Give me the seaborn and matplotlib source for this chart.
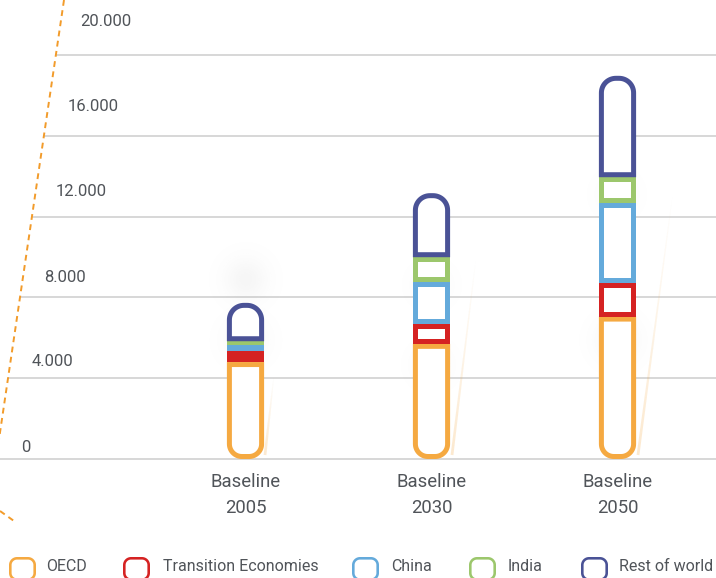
import numpy as np
import matplotlib
matplotlib.use("Agg")
import matplotlib.pyplot as plt
import seaborn as sns
from matplotlib.patches import Polygon
from matplotlib.transforms import IdentityTransform
from matplotlib.collections import LineCollection
from matplotlib.lines import Line2D

# ---------------- data ----------------
categories = ["Baseline\n2005", "Baseline\n2030", "Baseline\n2050"]
series_names = ["OECD", "Transition Economies", "China", "India", "Rest of world"]
oecd = [4800, 5700, 7050]
transition = [550, 990, 1680]
china = [270, 2090, 3960]
india = [210, 1210, 1260]
rest_of_world = [1900, 3170, 5020]
tick_values = [0, 4000, 8000, 12000, 16000, 20000]
tick_labels = ["0", "4.000", "8.000", "12.000", "16.000", "20.000"]
colors = ["#F5A941", "#D52222", "#64AADB", "#9CC76C", "#4A5296"]

W, H = 716, 578
TEXT = "#505459"

sns.set_theme(style="white")
plt.rcParams['font.family'] = ['Roboto', 'DejaVu Sans']

fig = plt.figure(figsize=(W / 100, H / 100), dpi=100)
Y0_PX, YTOP_PX = 459, 55          # pixel rows (from top) of 0 and 20000
ax = fig.add_axes([0, (H - Y0_PX) / H, 1, (Y0_PX - YTOP_PX) / H])

# stacked bars via seaborn (geometry harvested, then redrawn as rounded outlines)
series = [oecd, transition, china, india, rest_of_world]
cum = np.zeros(len(categories))
segments = []
for name, vals, col in zip(series_names, series, colors):
    top = cum + np.array(vals, dtype=float)
    n0 = len(ax.patches)
    sns.barplot(x=categories, y=top, color=col, width=0.2, saturation=1, ax=ax)
    new = list(ax.patches[n0:])
    for p, b in zip(new, cum):
        segments.append((p.get_x(), p.get_width(), b, p.get_y() + p.get_height(), col, name))
    for p in new:
        p.remove()
    cum = top

CX0, SP = 245.5, 186.0
ax.set_yticks([])
for s in ax.spines.values():
    s.set_visible(False)
ax.grid(False)
ax.set_xlabel("")
ax.set_ylabel("")
ax.set_xticks(range(len(categories)))
ax.set_xticklabels(categories, fontsize=13.3, color=TEXT, linespacing=1.58)
ax.tick_params(axis="x", length=0, pad=10)


def px2dx(px):
    return (px - CX0) / SP


def dash_x(ypx):
    return 64 - 0.148 * ypx


# faint glows
def glow(cx, cy, r, a):
    n = 64
    g = np.linspace(-1, 1, n)
    xx, yy = np.meshgrid(g, g)
    alpha = a * np.exp(-3.5 * (xx ** 2 + yy ** 2))
    img = np.zeros((n, n, 4))
    img[..., :3] = 0.6
    img[..., 3] = alpha
    x0 = px2dx(cx - r); x1 = px2dx(cx + r)
    y0 = (Y0_PX - (cy + r)) * 20000 / (Y0_PX - YTOP_PX)
    y1 = (Y0_PX - (cy - r)) * 20000 / (Y0_PX - YTOP_PX)
    ax.imshow(img, extent=(x0, x1, y0, y1), aspect="auto", zorder=0.8, interpolation="bilinear")

for (gx_, gy_, gr_, ga_) in [(246, 280, 40, 0.09), (246, 340, 40, 0.08), (432, 285, 36, 0.05),
                             (432, 365, 36, 0.06), (617, 195, 36, 0.05), (617, 340, 40, 0.10)]:
    glow(gx_, gy_, gr_, ga_)

ax.set_xlim(-CX0 / SP, (W - CX0) / SP)
ax.set_ylim(0, 20000)

# gridlines starting at the slanted dashed axis + labels
for v, lab in zip(tick_values, tick_labels):
    ypx = Y0_PX - v * (Y0_PX - YTOP_PX) / 20000
    gx = max(dash_x(ypx), 0)
    ax.hlines(v, px2dx(gx), ax.get_xlim()[1], color="#d4d4d4", lw=1.3, zorder=0.5, clip_on=False)
    ax.annotate(lab, xy=(px2dx(gx), v), xytext=(24 if v else 21, 12 + 21 * v / 20000),
                textcoords="offset pixels", ha="left", va="center",
                fontsize=12, color=TEXT, annotation_clip=False)

# dashed slanted axis line
dl = Line2D([dash_x(0), dash_x(470)], [H - 0, H - 470], transform=IdentityTransform(),
            color="#F29B2A", lw=1.4, linestyle=(0, (3, 2.3)), zorder=2)
fig.add_artist(dl)
dl2 = Line2D([0, 14], [H - 511, H - 521], transform=IdentityTransform(),
             color="#F29B2A", lw=1.4, linestyle=(0, (3, 2.3)), zorder=2)
fig.add_artist(dl2)

# faint orange beams
for (bx0, by0, bx1, by1) in [(265, 455, 274, 375), (452, 455, 476, 258), (638, 455, 673, 192)]:
    n = 60
    xs = np.linspace(bx0, bx1, n)
    ys = H - np.linspace(by0, by1, n)
    segs = [[(xs[i], ys[i]), (xs[i + 1], ys[i + 1])] for i in range(n - 1)]
    al = np.linspace(0.25, 0.0, n - 1)
    cols = [(0.96, 0.66, 0.25, a) for a in al]
    lws = np.linspace(2.0, 0.6, n - 1)
    lc = LineCollection(segs, colors=cols, linewidths=lws, transform=IdentityTransform(), zorder=2)
    fig.add_artist(lc)


def arc(cx, cy, r, a0, a1, n=18):
    t = np.radians(np.linspace(a0, a1, n))
    return np.column_stack([cx + r * np.cos(t), cy + r * np.sin(t)])


def rounded_poly(x0, y0, x1, y1, rb, rt):
    w, h = x1 - x0, y1 - y0
    rb = max(0, min(rb, w / 2, h))
    rt = max(0, min(rt, w / 2, h))
    pts = [arc(x0 + rb, y0 + rb, rb, 180, 270), arc(x1 - rb, y0 + rb, rb, 270, 360),
           arc(x1 - rt, y1 - rt, rt, 0, 90), arc(x0 + rt, y1 - rt, rt, 90, 180)]
    return np.vstack(pts)


LW = 5.0
R_BOT, R_TOP = 15, 17
fig.canvas.draw()
for (x, w, b, t, col, name) in segments:
    (dx0, dy0) = ax.transData.transform((x, b))
    (dx1, dy1) = ax.transData.transform((x + w, t))
    rb = R_BOT if name == series_names[0] else 0
    rt = R_TOP if name == series_names[-1] else 0
    outer = Polygon(rounded_poly(dx0, dy0, dx1, dy1, rb, rt), closed=True, facecolor=col,
                    edgecolor="none", transform=IdentityTransform(), zorder=3)
    fig.add_artist(outer)
    if (dy1 - dy0) > 2 * LW + 2.5:
        inner = Polygon(rounded_poly(dx0 + LW, dy0 + LW, dx1 - LW, dy1 - LW,
                                     max(rb - LW, 0), max(rt - LW, 0)), closed=True,
                        facecolor="white", edgecolor="none", transform=IdentityTransform(), zorder=3.1)
        fig.add_artist(inner)

# legend
marker_x = [9, 123, 352, 469, 581]
text_x = [46, 163, 391, 508, 619]
for name, col, mx, tx in zip(series_names, colors, marker_x, text_x):
    x0, x1 = mx, mx + 27
    y0, y1 = H - 581, H - 557
    lw = 2.6
    fig.add_artist(Polygon(rounded_poly(x0, y0, x1, y1, 8, 8), closed=True, facecolor=col,
                           edgecolor="none", transform=IdentityTransform(), zorder=3))
    fig.add_artist(Polygon(rounded_poly(x0 + lw, y0 + lw, x1 - lw, y1 - lw, 8 - lw, 8 - lw),
                           closed=True, facecolor="white", edgecolor="none",
                           transform=IdentityTransform(), zorder=3.1))
    fig.text(tx / W, 1 - 566.5 / H, name, ha="left", va="center", fontsize=11.5, color=TEXT)

fig.savefig("out.png", dpi=100)
